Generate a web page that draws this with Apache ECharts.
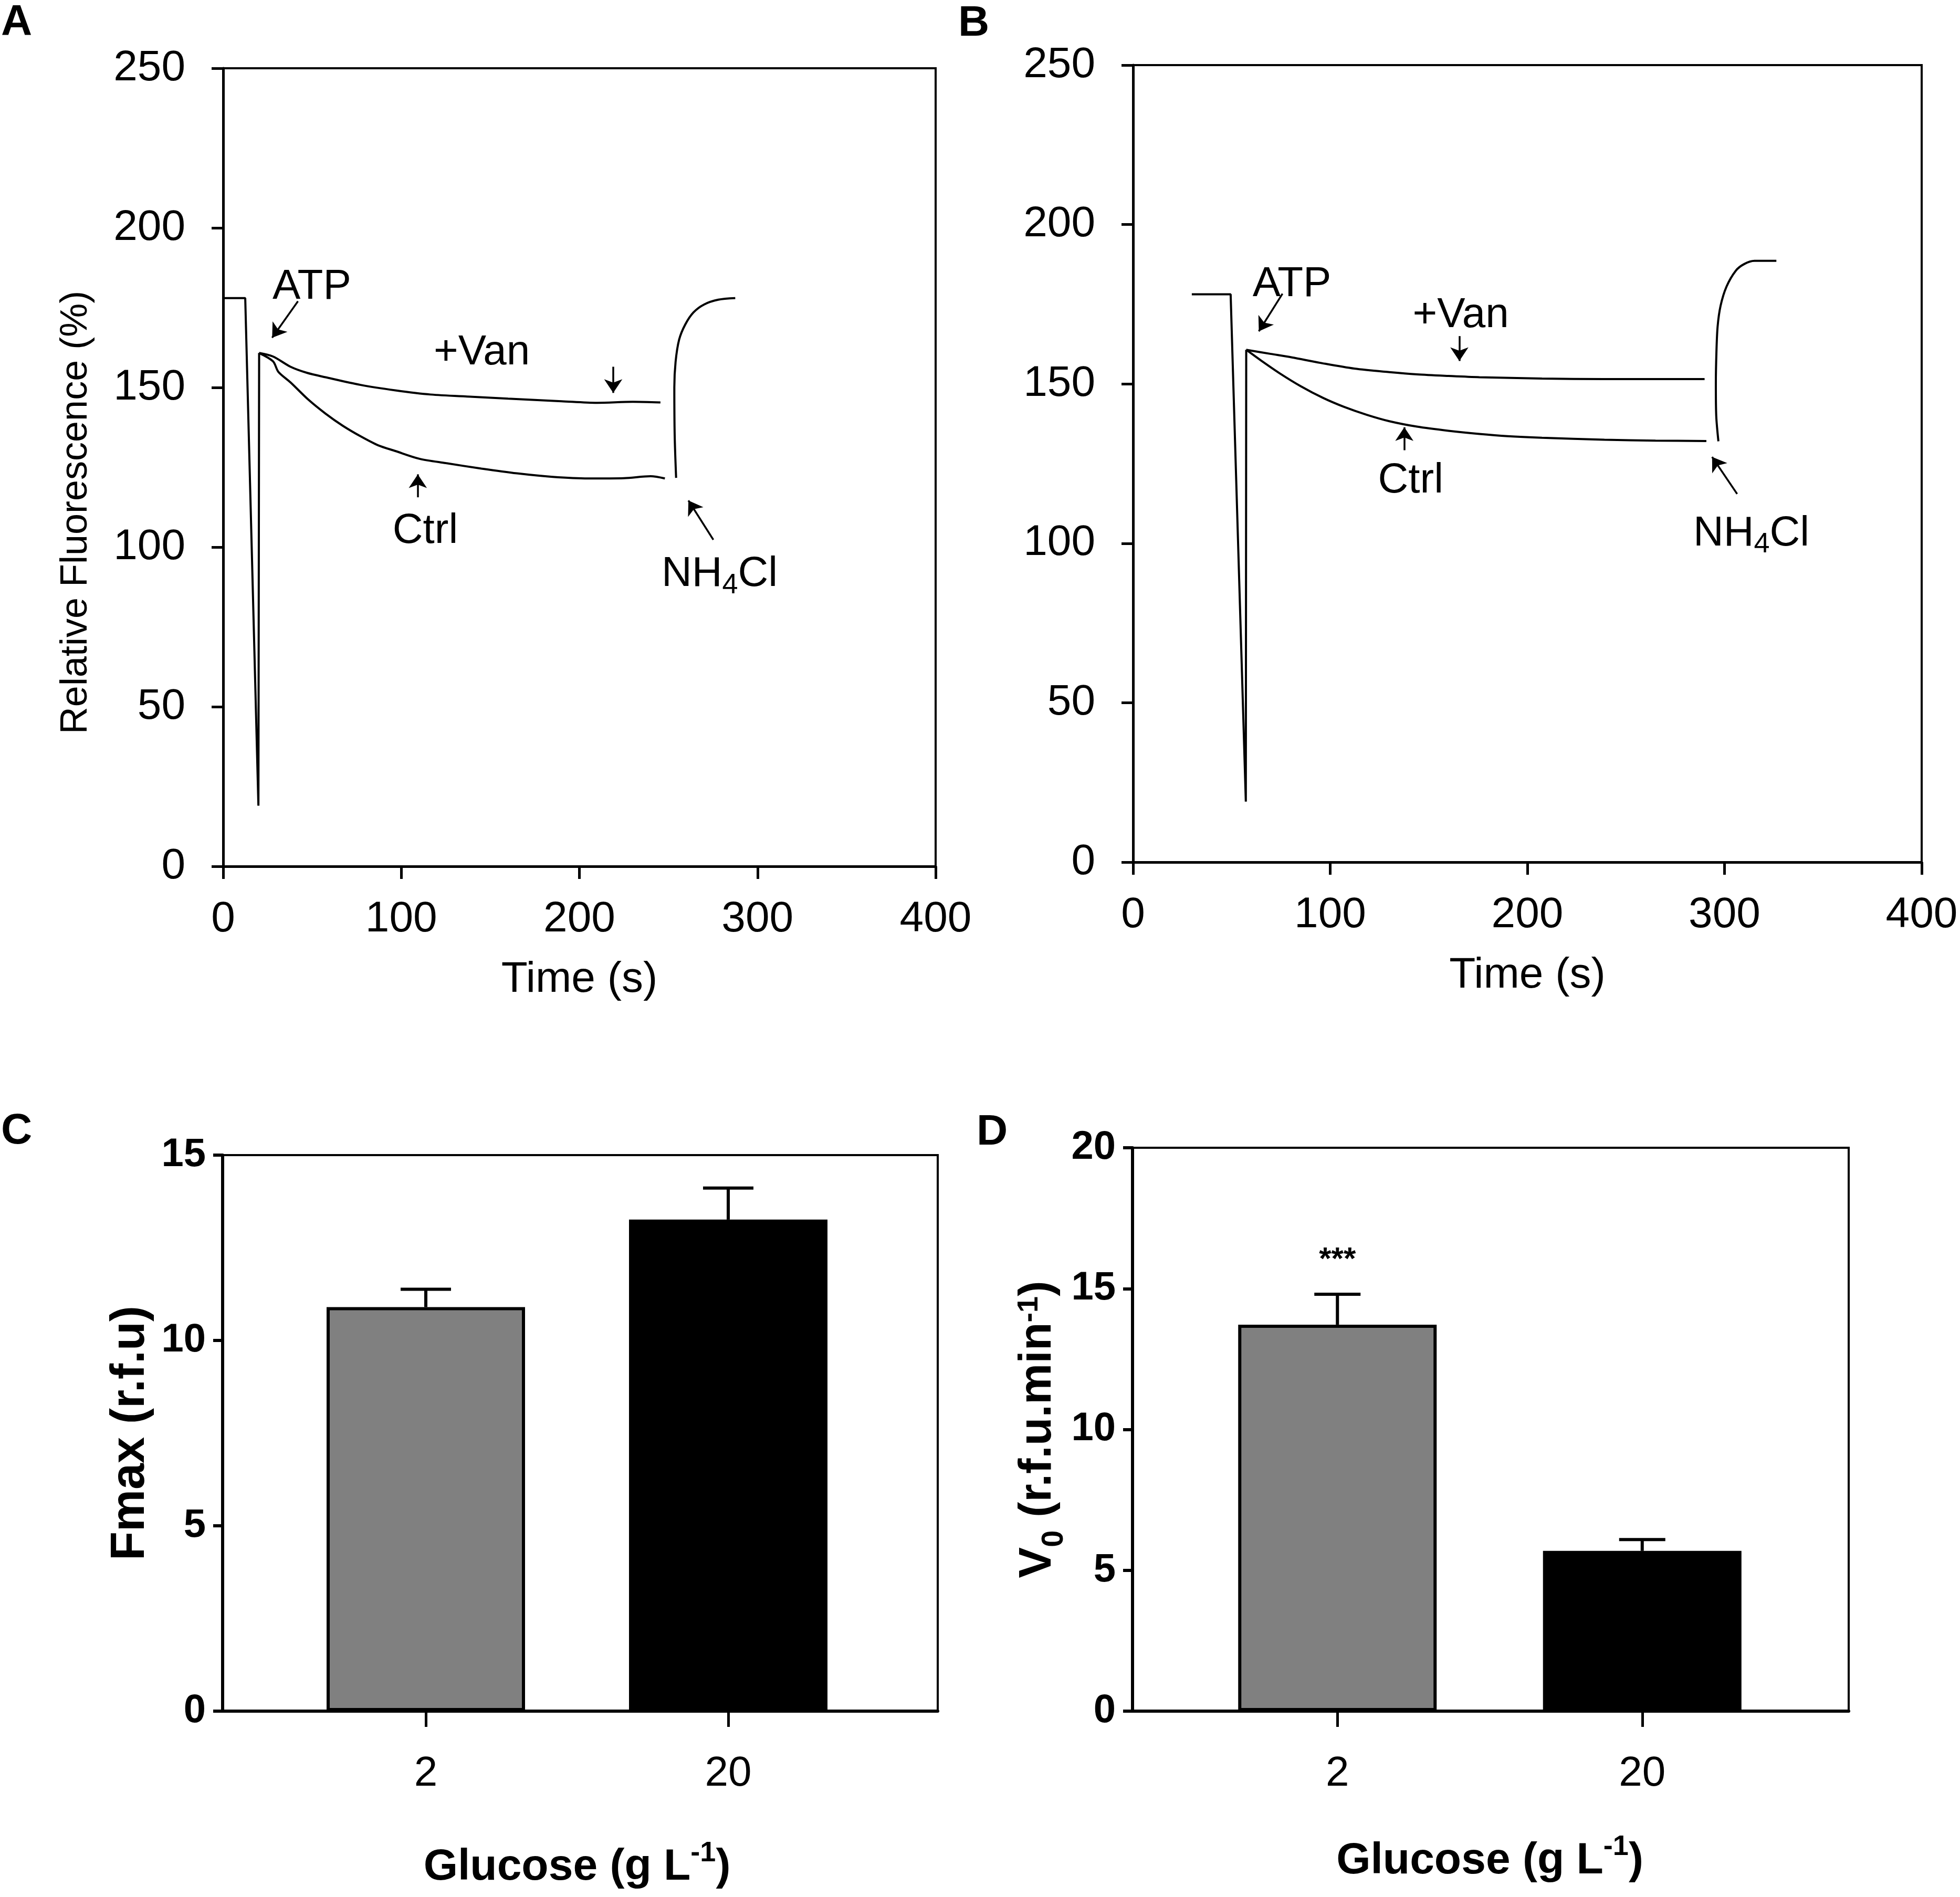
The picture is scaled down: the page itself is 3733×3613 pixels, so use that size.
<!DOCTYPE html>
<html>
<head>
<meta charset="utf-8">
<script src="https://cdn.jsdelivr.net/npm/echarts@6/dist/echarts.min.js"></script>
<style>
html,body{margin:0;padding:0;background:#fff;}
#chart{width:3733px;height:3613px;}
</style>
</head>
<body>
<div id="chart"></div>
<script>
// ---------------- DATA ----------------
// Panel A traces (time s, relative fluorescence %)
const aBaseT = [0, 12.4, 19.8, 20.2];
const aBaseV = [178, 178, 19, 160.8];
const aVanT = [20.2, 28, 37.8, 47, 57.5, 77.2, 96.7, 116.4, 140, 160, 190, 210, 230, 245.5];
const aVanV = [160.8, 159.7, 156.5, 154.6, 153.2, 150.8, 149.1, 147.8, 147.1, 146.5, 145.7, 145.2, 145.5, 145.3];
const aCtrlT = [20.2, 28, 31, 37.8, 47.8, 57.5, 67.2, 77.2, 87, 96.7, 110, 125, 145, 165, 185, 205, 225, 240, 248];
const aCtrlV = [160.8, 158.2, 154.9, 151.6, 146.2, 141.8, 138, 134.7, 131.9, 130.1, 127.7, 126.3, 124.6, 123.1, 122.0, 121.5, 121.6, 122.2, 121.5];
const aNhT = [254.3, 253.5, 253.3, 254, 256, 259.4, 264, 270, 278, 287.5];
const aNhV = [121.7, 135, 150, 158, 165, 169.7, 173.5, 176, 177.5, 178];

// Panel B traces
const bBaseT = [29.8, 49.5, 57.2, 57.4];
const bBaseV = [178.1, 178.1, 19, 160.7];
const bVanT = [57.4, 70, 80.6, 95, 112.3, 130, 144, 160, 175.7, 207.4, 239.1, 270, 289.9];
const bVanV = [160.7, 159.4, 158.3, 156.6, 154.8, 153.7, 153, 152.5, 152.1, 151.7, 151.5, 151.5, 151.5];
const bCtrlT = [57.4, 65, 74.2, 85, 96.4, 107, 118.6, 130, 144, 160, 175.7, 190, 207.4, 239.1, 265, 290.8];
const bCtrlV = [160.7, 157.3, 153.4, 149.3, 145.6, 142.8, 140.3, 138.3, 136.6, 135.3, 134.3, 133.6, 133.1, 132.5, 132.2, 132.1];
const bNhT = [296.9, 295.8, 295.6, 295.9, 296.5, 298, 301, 305.7, 310, 315.2, 326.3];
const bNhV = [132, 140, 150, 160, 168, 174.5, 180.5, 185.5, 187.6, 188.6, 188.6];

// Annotation texts [label, t, v]
const aNotes = [['ATP', 49.8, 181.5], ['+Van', 145.2, 160.8], ['Ctrl', 113.5, 105.0], ['NH4Cl', 278.7, 91.5]];
const bNotes = [['ATP', 80.6, 181.2], ['+Van', 166.2, 171.4], ['Ctrl', 140.8, 119.6], ['NH4Cl', 313.6, 103.0]];
// Arrows [t1, v1, t2(tip), v2(tip)]
const aArrows = [[42, 177, 27.5, 165.6], [219, 156.5, 219, 148.3], [109.3, 115.6, 109.3, 122.8], [275.2, 102.3, 261.2, 114.6]];
const bArrows = [[75.8, 178.3, 63.8, 166.5], [165.5, 165, 165.5, 157.2], [137.6, 129.2, 137.6, 136.4], [306.4, 115.5, 293.7, 127.1]];

// Axis ticks
const timeTicks = [0, 100, 200, 300, 400];
const fluoTicks = [0, 50, 100, 150, 200, 250];

// Panel C / D bars
const glucoseCats = ['2', '20'];
const cMeans = [10.9, 13.26];
const cErr = [0.48, 0.85];
const dMeans = [13.72, 5.69];
const dErr = [1.08, 0.40];
const barColors = ['#808080', '#000000'];
const dStars = [['***', 0, 16.0]];

// ---------------- STYLE ----------------
const FONT = "'Liberation Sans', Arial, sans-serif";
const BOLDF = "'Liberation Sans', Arial, sans-serif";
const BLACK = '#000';

const chart = echarts.init(document.getElementById('chart'), null, {renderer: 'canvas'});

function pairs(T, V) { return T.map((t, i) => [t, V[i]]); }

const nhRich = {
  n: {fontSize: 80, lineHeight: 80, fontFamily: FONT, fill: BLACK, verticalAlign: 'top'},
  s: {fontSize: 54, lineHeight: 54, fontFamily: FONT, fill: BLACK, verticalAlign: 'top', padding: [34, 0, 0, 0]}
};

function timeX(gi) {
  return {
    type: 'value', gridIndex: gi, min: timeTicks[0], max: timeTicks[timeTicks.length - 1], interval: 100,
    name: 'Time (s)', nameLocation: 'middle', nameGap: 175,
    nameTextStyle: {fontSize: 82, fontFamily: FONT, color: BLACK},
    axisLine: {show: true, lineStyle: {color: BLACK, width: 5}},
    axisTick: {show: true, inside: false, length: 24, lineStyle: {color: BLACK, width: 5}},
    axisLabel: {fontSize: 82, fontFamily: FONT, color: BLACK, margin: 60},
    splitLine: {show: false}
  };
}
function fluoY(gi, withName) {
  return {
    type: 'value', gridIndex: gi, min: fluoTicks[0], max: fluoTicks[fluoTicks.length - 1], interval: 50,
    name: withName ? 'Relative Fluorescence (%)' : '', nameLocation: 'middle', nameGap: 244, nameRotate: 90,
    nameTextStyle: {fontSize: 72, fontFamily: FONT, color: BLACK, padding: [0, 172, 0, 0]},
    axisLine: {show: true, lineStyle: {color: BLACK, width: 5}},
    axisTick: {show: true, inside: false, length: 22, lineStyle: {color: BLACK, width: 5}},
    axisLabel: {fontSize: 82, fontFamily: FONT, color: BLACK, margin: 72},
    splitLine: {show: false}
  };
}

function traceSeries(gi, T, V, smooth) {
  return {
    type: 'line', xAxisIndex: gi, yAxisIndex: gi, data: pairs(T, V), smooth: smooth,
    showSymbol: false, symbol: 'none', lineStyle: {color: BLACK, width: 4}, silent: true, z: 3
  };
}
function textSeries(gi, notes, font, arrows) {
  const s = {
    type: 'custom', xAxisIndex: gi, yAxisIndex: gi, silent: true, z: 5,
    data: notes.map(n => [n[1], n[2]]),
    renderItem: (params, api) => {
      const p = api.coord([api.value(0), api.value(1)]);
      const label = notes[params.dataIndex][0];
      const isNh = label === 'NH4Cl';
      return {
        type: 'text', x: p[0], y: p[1],
        style: {
          text: isNh ? '{n|NH}{s|4}{n|Cl}' : label,
          rich: isNh ? nhRich : undefined,
          font: font, fill: BLACK, align: 'center', verticalAlign: 'middle'
        }
      };
    }
  };
  if (arrows) {
    s.markLine = {
      silent: true, symbol: ['none', 'arrow'], symbolSize: 26, animation: false,
      lineStyle: {color: BLACK, width: 3.5, type: 'solid'}, label: {show: false},
      emphasis: {disabled: true},
      data: arrows.map(a => [{coord: [a[0], a[1]]}, {coord: [a[2], a[3]]}])
    };
  }
  return s;
}

// bar panels
const glucoseRich = {
  g: {fontSize: 84, lineHeight: 84, fontWeight: 'bold', fontFamily: BOLDF, color: BLACK, verticalAlign: 'top', padding: [12, 0, 0, 0]},
  sup: {fontSize: 54, lineHeight: 54, fontWeight: 'bold', fontFamily: BOLDF, color: BLACK, verticalAlign: 'top'}
};
const vRich = {
  b: {fontSize: 88, lineHeight: 88, fontWeight: 'bold', fontFamily: BOLDF, color: BLACK, verticalAlign: 'middle'},
  sub: {fontSize: 58, lineHeight: 58, fontWeight: 'bold', fontFamily: BOLDF, color: BLACK, verticalAlign: 'top', padding: [46, 0, 0, 0]},
  sup: {fontSize: 56, lineHeight: 56, fontWeight: 'bold', fontFamily: BOLDF, color: BLACK, verticalAlign: 'top', padding: [0, 0, 48, 0]}
};

function frameX(gi) {
  return {type: 'value', gridIndex: gi, min: 0, max: 1, axisLine: {show: true, lineStyle: {color: BLACK, width: 6}},
    axisTick: {show: false}, axisLabel: {show: false}, splitLine: {show: false}};
}
function barY(gi, max, nameStr, gap, rich) {
  return {
    type: 'value', gridIndex: gi, min: 0, max: max, interval: 5,
    name: nameStr, nameLocation: 'middle', nameGap: gap, nameRotate: 90,
    nameTextStyle: {fontSize: 90, fontWeight: 'bold', fontFamily: BOLDF, color: BLACK, rich: rich},
    axisLine: {show: true, lineStyle: {color: BLACK, width: 6}},
    axisTick: {show: true, length: 18, lineStyle: {color: BLACK, width: 6}},
    axisLabel: {fontSize: 76, fontWeight: 'bold', fontFamily: BOLDF, color: BLACK, margin: 32},
    splitLine: {show: false}
  };
}
function hiddenY(gi, max) {
  return {type: 'value', gridIndex: gi, min: 0, max: max, show: false, splitLine: {show: false}};
}
function catX(gi, gap) {
  return {
    type: 'category', gridIndex: gi, data: glucoseCats,
    name: '{g|Glucose (g L}{sup|-1}{g|)}', nameLocation: 'middle', nameGap: gap,
    nameTextStyle: {rich: glucoseRich},
    axisLine: {show: false},
    axisTick: {show: true, alignWithLabel: true, length: 30, lineStyle: {color: BLACK, width: 5}},
    axisLabel: {fontSize: 80, fontFamily: FONT, color: BLACK, margin: 80},
    splitLine: {show: false}
  };
}
function barSeries(gi, means) {
  return {
    type: 'bar', xAxisIndex: gi, yAxisIndex: gi, barWidth: 378, silent: true, z: 2,
    data: means.map((m, i) => ({value: m, itemStyle: {color: barColors[i], borderColor: BLACK, borderWidth: 6}}))
  };
}
function errSeries(gi, means, errs, cap) {
  return {
    type: 'custom', xAxisIndex: gi, yAxisIndex: gi, silent: true, z: 4,
    data: means.map((m, i) => [i, m, m + errs[i]]),
    renderItem: (params, api) => {
      const p0 = api.coord([api.value(0), api.value(1)]);
      const p1 = api.coord([api.value(0), api.value(2)]);
      return {type: 'group', children: [
        {type: 'line', shape: {x1: p0[0], y1: p0[1], x2: p1[0], y2: p1[1]}, style: {stroke: BLACK, lineWidth: 6}},
        {type: 'line', shape: {x1: p1[0] - cap / 2, y1: p1[1], x2: p1[0] + cap / 2, y2: p1[1]}, style: {stroke: BLACK, lineWidth: 6}}
      ]};
    }
  };
}

const gridBorder = {show: true, borderColor: BLACK, borderWidth: 4, backgroundColor: 'transparent'};

const option = {
  animation: false,
  backgroundColor: '#fff',
  grid: [
    Object.assign({left: 425, top: 130, width: 1357, height: 1520}, gridBorder),
    Object.assign({left: 2158, top: 124, width: 1502, height: 1518}, gridBorder),
    Object.assign({left: 424, top: 2200, width: 1362, height: 1059}, gridBorder),
    {left: 523, top: 2200, width: 1152, height: 1059, show: false},
    Object.assign({left: 2157, top: 2186, width: 1364, height: 1073}, gridBorder),
    {left: 2257, top: 2186, width: 1161, height: 1073, show: false}
  ],
  xAxis: [timeX(0), timeX(1), frameX(2), catX(3, 244), frameX(4), catX(5, 232)],
  yAxis: [
    fluoY(0, true), fluoY(1, false),
    barY(2, 15, 'Fmax (r.f.u)', 130, {}),
    hiddenY(3, 15),
    barY(4, 20, '{b|V}{sub|0}{b| (r.f.u.min}{sup|-1}{b|)}', 106, vRich),
    hiddenY(5, 20)
  ],
  series: [
    traceSeries(0, aBaseT, aBaseV, false),
    traceSeries(0, aVanT, aVanV, 0.3),
    traceSeries(0, aCtrlT, aCtrlV, 0.3),
    traceSeries(0, aNhT, aNhV, 0.3),
    textSeries(0, aNotes, '80px ' + FONT, aArrows),
    traceSeries(1, bBaseT, bBaseV, false),
    traceSeries(1, bVanT, bVanV, 0.3),
    traceSeries(1, bCtrlT, bCtrlV, 0.3),
    traceSeries(1, bNhT, bNhV, 0.3),
    textSeries(1, bNotes, '80px ' + FONT, bArrows),
    barSeries(3, cMeans),
    errSeries(3, cMeans, cErr, 96),
    barSeries(5, dMeans),
    errSeries(5, dMeans, dErr, 88),
    textSeries(5, dStars, 'bold 60px ' + BOLDF, null)
  ],
  graphic: [
    {type: 'text', left: 2, top: 2, style: {text: 'A', font: 'bold 82px ' + FONT, fill: BLACK}},
    {type: 'text', left: 1825, top: 4, style: {text: 'B', font: 'bold 82px ' + FONT, fill: BLACK}},
    {type: 'text', left: 2, top: 2114, style: {text: 'C', font: 'bold 82px ' + FONT, fill: BLACK}},
    {type: 'text', left: 1860, top: 2116, style: {text: 'D', font: 'bold 82px ' + FONT, fill: BLACK}}
  ]
};
chart.setOption(option);
</script>
</body>
</html>
